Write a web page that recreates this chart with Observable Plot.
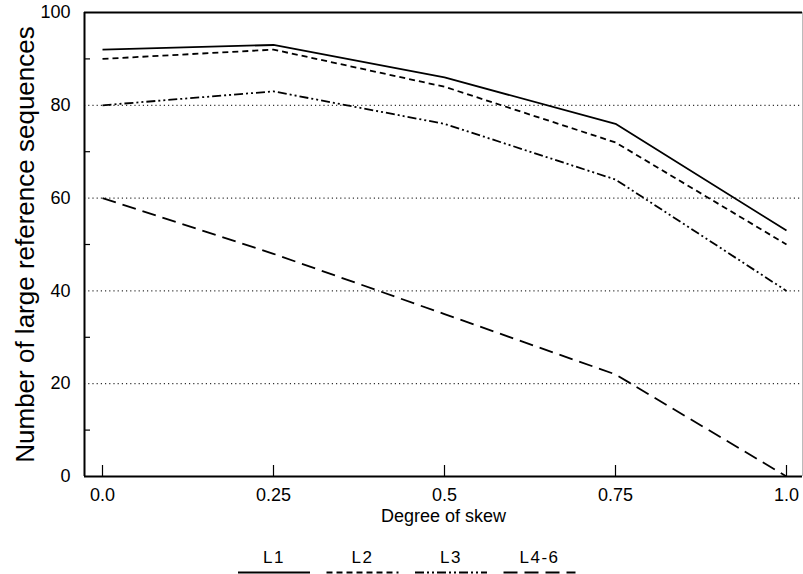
<!DOCTYPE html>
<html><head><meta charset="utf-8">
<script src="https://cdn.jsdelivr.net/npm/d3@7"></script>
<script src="https://cdn.jsdelivr.net/npm/@observablehq/plot@0.6"></script>
<style>
body{margin:0;background:#fff;font-family:"Liberation Sans",Arial,Helvetica,sans-serif;}
#chart{width:803px;height:574px;overflow:hidden;}
#chart svg{display:block;}
</style></head><body><div id="chart"></div>
<script>
const skew = [0, 0.25, 0.5, 0.75, 1.0];
const skewLabels = ["0.0", "0.25", "0.5", "0.75", "1.0"];
const seriesNames = ["L1", "L2", "L3", "L4-6"];
const L1 = [92, 93, 86, 76, 53];
const L2 = [90, 92, 84, 72, 50];
const L3 = [80, 83, 76, 64, 40];
const L46 = [60, 48, 35, 22, 0];
const yTicks = [0, 20, 40, 60, 80, 100];
const yMinor = [10, 30, 50, 70, 90];
const gridVals = [20, 40, 60, 80];
const xLabel = "Degree of skew";
const yLabel = "Number of large reference sequences";

const seriesValues = [L1, L2, L3, L46];
const dashes = ["none", "6,4", "9,3,2,3,2,3", "14,7"];
const xDomain = [-18 / 684, 1 + 16 / 684];
const font = '"Liberation Sans", Arial, Helvetica, sans-serif';

const lineMarks = seriesValues.map((vals, k) =>
  Plot.line(skew.map((x, i) => ({x, y: vals[i]})), {
    x: "x", y: "y", stroke: "black", strokeWidth: 1.8,
    strokeDasharray: dashes[k], strokeLinecap: "butt", strokeLinejoin: "miter"
  })
);

const chart = Plot.plot({
  width: 803, height: 535,
  marginLeft: 84, marginRight: 1, marginTop: 12, marginBottom: 59,
  style: {fontFamily: font, fontSize: "18px", background: "white", color: "black"},
  x: {domain: xDomain},
  y: {domain: [0, 100]},
  marks: [
    Plot.ruleY(gridVals, {stroke: "black", strokeWidth: 1, strokeDasharray: "1.2,3"}),
    ...lineMarks,
    Plot.ruleX([xDomain[1]], {stroke: "#bbb", strokeWidth: 1}),
    Plot.ruleY([100], {stroke: "black", strokeWidth: 2}),
    Plot.ruleY([0], {stroke: "black", strokeWidth: 2}),
    Plot.ruleX([xDomain[0]], {stroke: "black", strokeWidth: 2}),
    Plot.axisY({ticks: yTicks, tickSize: 0, tickPadding: 14, fontSize: 18, label: null}),
    Plot.axisY({ticks: yMinor, tickSize: 6, dx: 6, tickFormat: () => "", label: null, strokeWidth: 1.2}),
    Plot.axisX({ticks: skew, tickSize: 0, tickPadding: 12, fontSize: 18, label: null,
      tickFormat: d => skewLabels[skew.indexOf(d)]}),
    Plot.axisX({ticks: skew, tickSize: 11, dy: -11, tickFormat: () => "", label: null, strokeWidth: 1.2}),
    Plot.text([yLabel], {text: d => d, frameAnchor: "left", textAnchor: "middle", rotate: -90, dx: -59, fontSize: 26}),
    Plot.text([xLabel], {text: d => d, frameAnchor: "bottom", dy: 45, fontSize: 18})
  ]
});
document.getElementById("chart").appendChild(chart);

// legend below the plot
const legend = d3.select("#chart").append("svg")
  .attr("width", 803).attr("height", 39)
  .style("font-family", font);
const legendStart = 274, legendStep = 88.5, legendHalf = 36;
seriesNames.forEach((name, k) => {
  const cx = legendStart + k * legendStep;
  legend.append("text")
    .attr("x", cx).attr("y", 28)
    .attr("text-anchor", "middle")
    .attr("font-size", 17)
    .attr("letter-spacing", 1.5)
    .text(name);
  legend.append("line")
    .attr("x1", cx - legendHalf).attr("x2", cx + legendHalf)
    .attr("y1", 37.5).attr("y2", 37.5)
    .attr("stroke", "black").attr("stroke-width", 1.8)
    .attr("stroke-dasharray", dashes[k]);
});
</script>
</body></html>
